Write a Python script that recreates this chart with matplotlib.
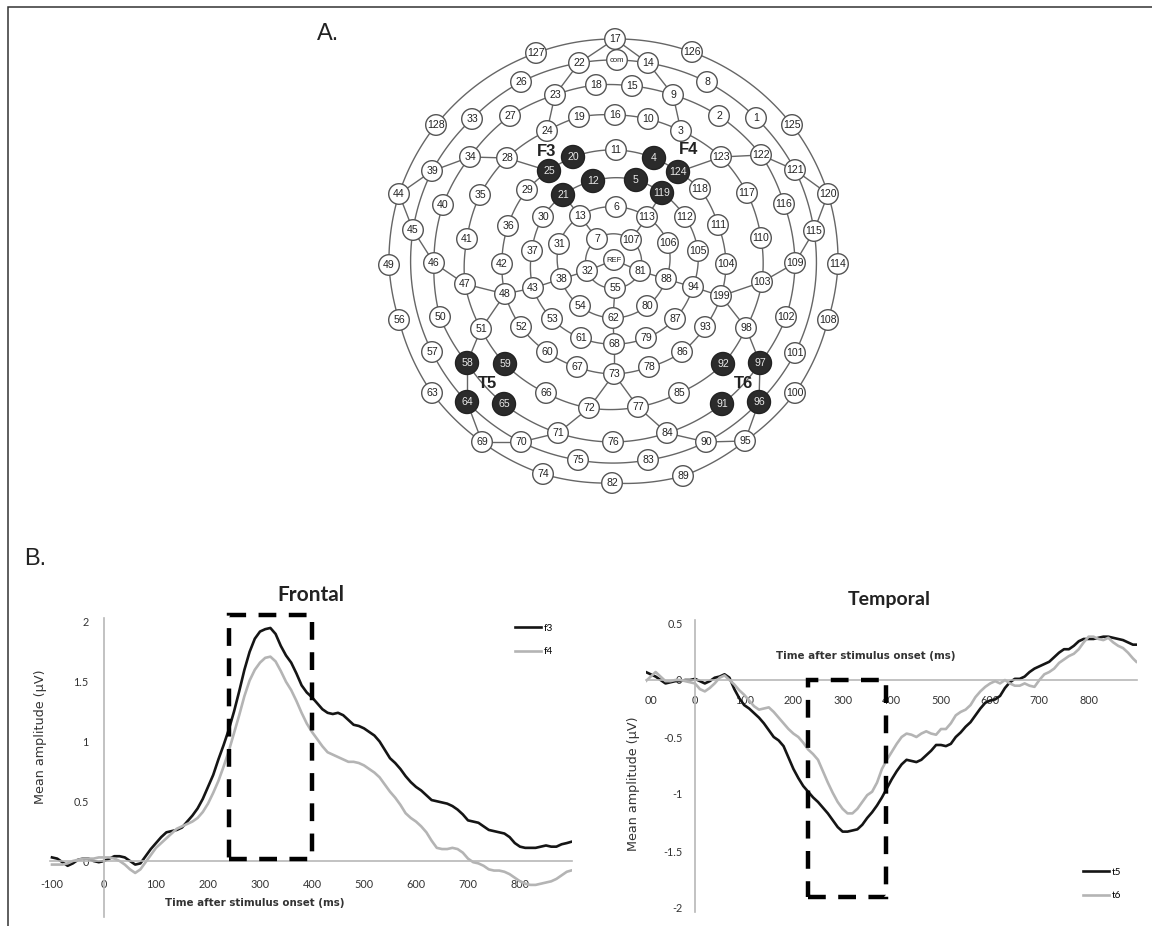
import numpy as np
import matplotlib
matplotlib.use("Agg")
import matplotlib.pyplot as plt
from matplotlib.patches import Circle, Rectangle

W, H = 1152, 926

# ---- Panel A: sensor net (node label, x, y)
sensor_labels = ["17","com","22","14","127","126","26","23","18","15","9","8","128","33","27","24","19","16","10","3","2","1","125",
 "39","34","28","25","20","11","4","124","123","122","121","44","40","35","29","21","12","5","119","118","117","116","120",
 "30","13","6","113","112","111","110","45","115","41","36","37","31","7","107","106","105",
 "49","46","42","32","REF","81","88","104","109","114","47","43","38","55","94","199","103",
 "48","56","50","51","52","53","54","62","80","87","93","98","102","108","61","68","79",
 "57","58","59","60","67","73","78","86","92","97","101","63","64","65","66","72","77","85","91","96","100",
 "71","84","69","70","76","90","95","75","83","74","89","82"]
sensor_x = [615,617,579,648,536,692,521,555,596,632,673,707,436,472,510,547,579,615,648,681,719,756,792,
 432,470,507,549,573,616,654,678,721,761,795,399,443,480,527,563,593,636,662,700,747,784,828,
 543,580,616,647,685,718,761,413,814,467,508,532,559,597,631,668,698,
 389,434,502,587,614,640,666,726,795,838,465,533,561,615,693,721,762,
 505,399,440,481,521,552,580,613,647,675,705,746,786,828,581,614,646,
 432,467,505,547,577,614,649,682,723,760,795,432,467,504,546,589,638,679,722,759,795,
 558,667,482,521,613,706,745,578,648,543,683,612]
sensor_y = [39,60,63,63,53,52,82,95,85,86,95,82,125,119,116,131,117,115,119,131,116,118,125,
 171,157,158,171,157,150,158,172,157,155,170,194,205,195,190,195,181,180,193,189,193,204,194,
 217,216,207,217,217,225,238,230,231,239,226,251,244,239,240,243,251,
 265,263,264,271,260,271,279,264,263,264,284,288,279,288,287,296,282,
 294,320,317,329,327,319,306,318,306,319,327,328,317,320,338,344,338,
 352,363,364,352,367,374,367,352,364,363,353,393,402,404,393,408,407,393,404,402,393,
 433,433,442,442,442,442,441,460,460,474,476,483]
dark_sensors = ["20","25","21","12","4","124","5","119","58","59","64","65","92","97","91","96"]

ring_chains = [
 "17 126 125 120 114 108 100 95 89 82 74 69 63 56 49 44 128 127 17",
 "22 com 14 8 1 121 115 101 96 90 83 75 70 64 57 45 39 33 26 22",
 "23 18 15 9 2 122 116 109 102 97 91 84 76 71 65 58 50 46 40 34 27 23",
 "24 19 16 10 3 123 117 110 103 98 92 85 77 72 66 59 51 47 41 35 28 24",
 "11 4 124 118 111 104 199 93 86 78 73 67 60 52 48 42 36 29 25 20 11",
 "12 5 119 112 105 94 87 79 68 61 53 43 37 30 21 12",
 "6 113 106 88 80 62 54 38 31 13 6",
 "7 107 81 55 32 7",
]
spoke_pairs = ["17 22","17 14","22 23","14 9","23 24","9 3","44 39","39 34","34 28","28 25","44 45","45 46",
 "120 121","121 122","122 123","123 124","120 115","115 109","46 47","47 48","48 43","43 38","38 32",
 "81 88","88 94","94 199","199 103","103 109","199 98","98 97","48 51","51 58","58 64","97 96",
 "64 69","69 70","70 71","71 72","72 73","73 77","77 84","84 90","90 95","95 96",
 "13 21","113 119","13 7","113 107","55 62","62 68","68 73","32 REF","81 REF"]
map_center = (614, 262)

# ---- Panel B: ERP waveforms
time_ms = list(range(-100, 900, 10)) + [898]
f3 = [.03,.02,-.01,-.04,-.02,.01,.02,.02,0,-.01,0,.02,.04,.04,.03,0,-.03,-.02,.04,.1,
 .15,.2,.24,.25,.26,.28,.33,.38,.44,.52,.62,.72,.85,.97,1.1,1.25,1.42,1.6,1.75,1.86,
 1.92,1.94,1.95,1.9,1.8,1.72,1.66,1.57,1.47,1.41,1.37,1.32,1.27,1.24,1.23,1.24,1.22,1.18,1.14,1.13,
 1.11,1.08,1.05,1.0,.93,.86,.82,.77,.71,.66,.62,.59,.55,.51,.5,.49,.48,.46,.43,.39,
 .34,.33,.32,.29,.26,.25,.24,.23,.2,.15,.12,.11,.11,.11,.12,.13,.12,.12,.14,.15,.16]
f4 = [-.03,-.03,-.03,-.02,0,.01,.02,.02,.02,.03,.03,.03,.02,0,-.03,-.07,-.1,-.07,-.01,.05,
 .11,.15,.19,.23,.27,.29,.31,.33,.36,.41,.48,.57,.67,.79,.92,1.07,1.22,1.38,1.51,1.6,
 1.66,1.7,1.71,1.67,1.59,1.5,1.43,1.34,1.24,1.15,1.08,1.02,.96,.91,.89,.87,.85,.83,.83,.82,
 .8,.77,.74,.7,.64,.58,.53,.47,.4,.36,.33,.29,.24,.17,.11,.1,.1,.11,.1,.07,
 .02,-.01,-.02,-.04,-.07,-.08,-.08,-.09,-.11,-.14,-.17,-.19,-.2,-.2,-.19,-.18,-.17,-.15,-.12,-.09,-.08]
t5 = [.07,.05,.03,0,-.03,-.02,-.01,-.01,0,0,.01,-.01,-.03,-.01,.02,.03,.05,.02,-.08,-.16,
 -.22,-.25,-.29,-.33,-.38,-.44,-.5,-.53,-.58,-.68,-.78,-.86,-.93,-.98,-1.03,-1.07,-1.12,-1.17,-1.23,-1.29,
 -1.33,-1.33,-1.32,-1.31,-1.27,-1.21,-1.16,-1.1,-1.03,-.95,-.87,-.8,-.74,-.7,-.71,-.72,-.7,-.66,-.62,-.57,
 -.57,-.58,-.56,-.5,-.46,-.41,-.37,-.31,-.25,-.2,-.18,-.17,-.14,-.07,-.02,.01,.01,.03,.07,.1,
 .12,.14,.16,.2,.24,.27,.27,.3,.34,.36,.36,.36,.37,.38,.38,.37,.36,.35,.33,.31,.31]
t6 = [-.01,.03,.07,.03,-.01,-.01,0,0,-.01,-.02,-.03,-.08,-.1,-.07,-.03,.02,.04,0,-.04,-.09,
 -.13,-.18,-.23,-.26,-.25,-.24,-.28,-.33,-.38,-.43,-.47,-.5,-.55,-.61,-.65,-.7,-.8,-.9,-.99,-1.07,
 -1.13,-1.17,-1.17,-1.13,-1.07,-1.01,-.98,-.9,-.78,-.7,-.63,-.56,-.5,-.47,-.48,-.5,-.47,-.45,-.47,-.48,
 -.43,-.43,-.38,-.31,-.28,-.26,-.22,-.15,-.1,-.06,-.03,-.01,-.03,0,-.03,-.05,-.05,-.03,-.05,-.06,
 0,.05,.07,.1,.15,.18,.21,.23,.27,.33,.38,.38,.36,.35,.37,.33,.3,.28,.24,.19,.16]
frontal_xticks = [-100,0,100,200,300,400,500,600,700,800]
frontal_xlabels = ["-100","0","100","200","300","400","500","600","700","800"]
frontal_yticks = [0,0.5,1,1.5,2]
frontal_ylabels = ["0","0.5","1","1.5","2"]
temporal_xticks = [-90,0,100,200,300,400,500,600,700,800]
temporal_xlabels = ["00","0","100","200","300","400","500","600","700","800"]
temporal_yticks = [-2,-1.5,-1,-0.5,0,0.5]
temporal_ylabels = ["-2","-1.5","-1","-0.5","0","0.5"]
frontal_window = (240, 400, 0.02, 2.06)
temporal_window = (230, 388, -1.9, 0.0)

BLACK, GREY = "#151515", "#b4b4b4"
AXIS = "#b8b8b8"
fig = plt.figure(figsize=(W/100, H/100), dpi=100, facecolor="white")
bg = fig.add_axes([0, 0, 1, 1])
bg.set_xlim(0, W); bg.set_ylim(H, 0); bg.axis("off")

# frame: top and left edges only
bg.plot([8, 8, W], [H, 7, 7], color="#333333", lw=1.1, solid_joinstyle="miter")

# panel A
pos = {k: (x, y) for k, x, y in zip(sensor_labels, sensor_x, sensor_y)}
def arc(a, b, n=24):
    ax_, ay_ = pos[a][0]-map_center[0], pos[a][1]-map_center[1]
    bx_, by_ = pos[b][0]-map_center[0], pos[b][1]-map_center[1]
    ra, rb = np.hypot(ax_, ay_), np.hypot(bx_, by_)
    ta, tb = np.arctan2(ay_, ax_), np.arctan2(by_, bx_)
    d = (tb-ta+np.pi) % (2*np.pi) - np.pi
    s = np.linspace(0, 1, n)
    return map_center[0]+(ra+(rb-ra)*s)*np.cos(ta+d*s), map_center[1]+(ra+(rb-ra)*s)*np.sin(ta+d*s)
LINE = "#666666"
for chain in ring_chains:
    c = chain.split()
    for a, b in zip(c[:-1], c[1:]):
        xs, ys = arc(a, b)
        bg.plot(xs, ys, color=LINE, lw=1.0, zorder=2)
for pair in spoke_pairs:
    a, b = pair.split()
    bg.plot([pos[a][0], pos[b][0]], [pos[a][1], pos[b][1]], color=LINE, lw=1.0, zorder=2)
for k in sensor_labels:
    x, y = pos[k]
    dark = k in dark_sensors
    bg.add_patch(Circle((x, y), 11.5 if dark else 10.3, fc="#2b2b2b" if dark else "white",
                        ec="#222222" if dark else "#555555", lw=1.0, zorder=3))
    small = k in ("com", "REF")
    bg.text(x, y+0.3, k, ha="center", va="center", fontsize=5.5 if small else 7.6,
            family="Liberation Sans", color="#e8e8e8" if dark else "#222222", zorder=4)
for lab, x, y in [("F3", 547, 151), ("F4", 689, 150), ("T5", 487, 384), ("T6", 743, 384)]:
    bg.text(x, y, lab, ha="center", va="center", fontsize=12, fontweight="bold",
            family="Liberation Sans", color="#222222", zorder=5)
bg.text(328, 34, "A.", ha="center", va="center", fontsize=17, family="Liberation Sans", color="#222222")
bg.text(35, 559, "B.", ha="center", va="center", fontsize=17, family="Liberation Sans", color="#222222")

def chart(x0, px100, y0, pxunit, xmin_px, xmax_px, ymin_px, ymax_px):
    """axes whose data scale maps onto the panel's pixel geometry"""
    ax = fig.add_axes([xmin_px/W, 1-ymax_px/H, (xmax_px-xmin_px)/W, (ymax_px-ymin_px)/H])
    ax.set_xlim((xmin_px-x0)/px100*100, (xmax_px-x0)/px100*100)
    ax.set_ylim((y0-ymax_px)/pxunit, (y0-ymin_px)/pxunit)
    ax.patch.set_alpha(0)
    for s in ("top", "right"):
        ax.spines[s].set_visible(False)
    for s in ("left", "bottom"):
        ax.spines[s].set_position(("data", 0))
        ax.spines[s].set_color(AXIS)
        ax.spines[s].set_linewidth(1.2)
    ax.tick_params(length=0, labelsize=7.8, labelcolor="#333333")
    return ax

def finish(ax, xt, xl, yt, yl, xpad, ypad):
    ax.set_xticks(xt, xl, family="Lato")
    ax.set_yticks(yt, yl, family="Lato")
    ax.tick_params(axis="x", pad=xpad)
    ax.tick_params(axis="y", pad=ypad)

# Frontal
a1 = chart(104, 52, 861, 119.5, 50, 572, 618, 917)
a1.plot(time_ms, f3, color=BLACK, lw=1.9, label="f3")
a1.plot(time_ms, f4, color=GREY, lw=1.9, label="f4")
finish(a1, frontal_xticks, frontal_xlabels, frontal_yticks, frontal_ylabels, 13, 11)
l, r, b, t = frontal_window
a1.add_patch(Rectangle((l, b), r-l, t-b, fill=False, ec="black", lw=3.2, ls=(0, (4, 2.8)), clip_on=False, zorder=6))
a1.legend(loc="upper left", bbox_to_anchor=(0.89, 0.98), frameon=False, handlelength=2.6,
          labelspacing=1.45, handletextpad=0.3, borderpad=0, borderaxespad=0, prop={"family": "Lato", "size": 7.2})

# Temporal
a2 = chart(695, 49.2, 680, 114, 646, 1137, 620, 912)
a2.plot(time_ms[:-1]+[897], t5, color=BLACK, lw=1.9, label="t5")
a2.plot(time_ms[:-1]+[897], t6, color=GREY, lw=1.9, label="t6")
finish(a2, temporal_xticks, temporal_xlabels, temporal_yticks, temporal_ylabels, 11, 9)
l, r, b, t = temporal_window
a2.add_patch(Rectangle((l, b), r-l, t-b, fill=False, ec="black", lw=3.2, ls=(0, (4, 2.8)), clip_on=False, zorder=6))
a2.legend(loc="lower left", bbox_to_anchor=(0.89, 0.04), frameon=False, handlelength=2.6,
          labelspacing=1.45, handletextpad=0.3, borderpad=0, borderaxespad=0, prop={"family": "Lato", "size": 7.2})

# labels and titles
lab = dict(family="DejaVu Sans", color="#333333", ha="center", va="center")
bg.text(255, 903, "Time after stimulus onset (ms)", fontweight="bold", fontsize=7.4, **lab)
bg.text(41, 737, "Mean amplitude (µV)", rotation=90, fontsize=9.2, **lab)
bg.text(866, 656, "Time after stimulus onset (ms)", fontweight="bold", fontsize=7.4, **lab)
bg.text(634, 784, "Mean amplitude (µV)", rotation=90, fontsize=9.2, **lab)
bg.text(311, 595, "Frontal", family="Lato", fontweight="bold", fontsize=15, color="#222222", ha="center", va="center")
bg.text(889, 599, "Temporal", family="Lato", fontweight="bold", fontsize=14, color="#222222", ha="center", va="center")

fig.savefig("out.png", dpi=100, facecolor="white")
